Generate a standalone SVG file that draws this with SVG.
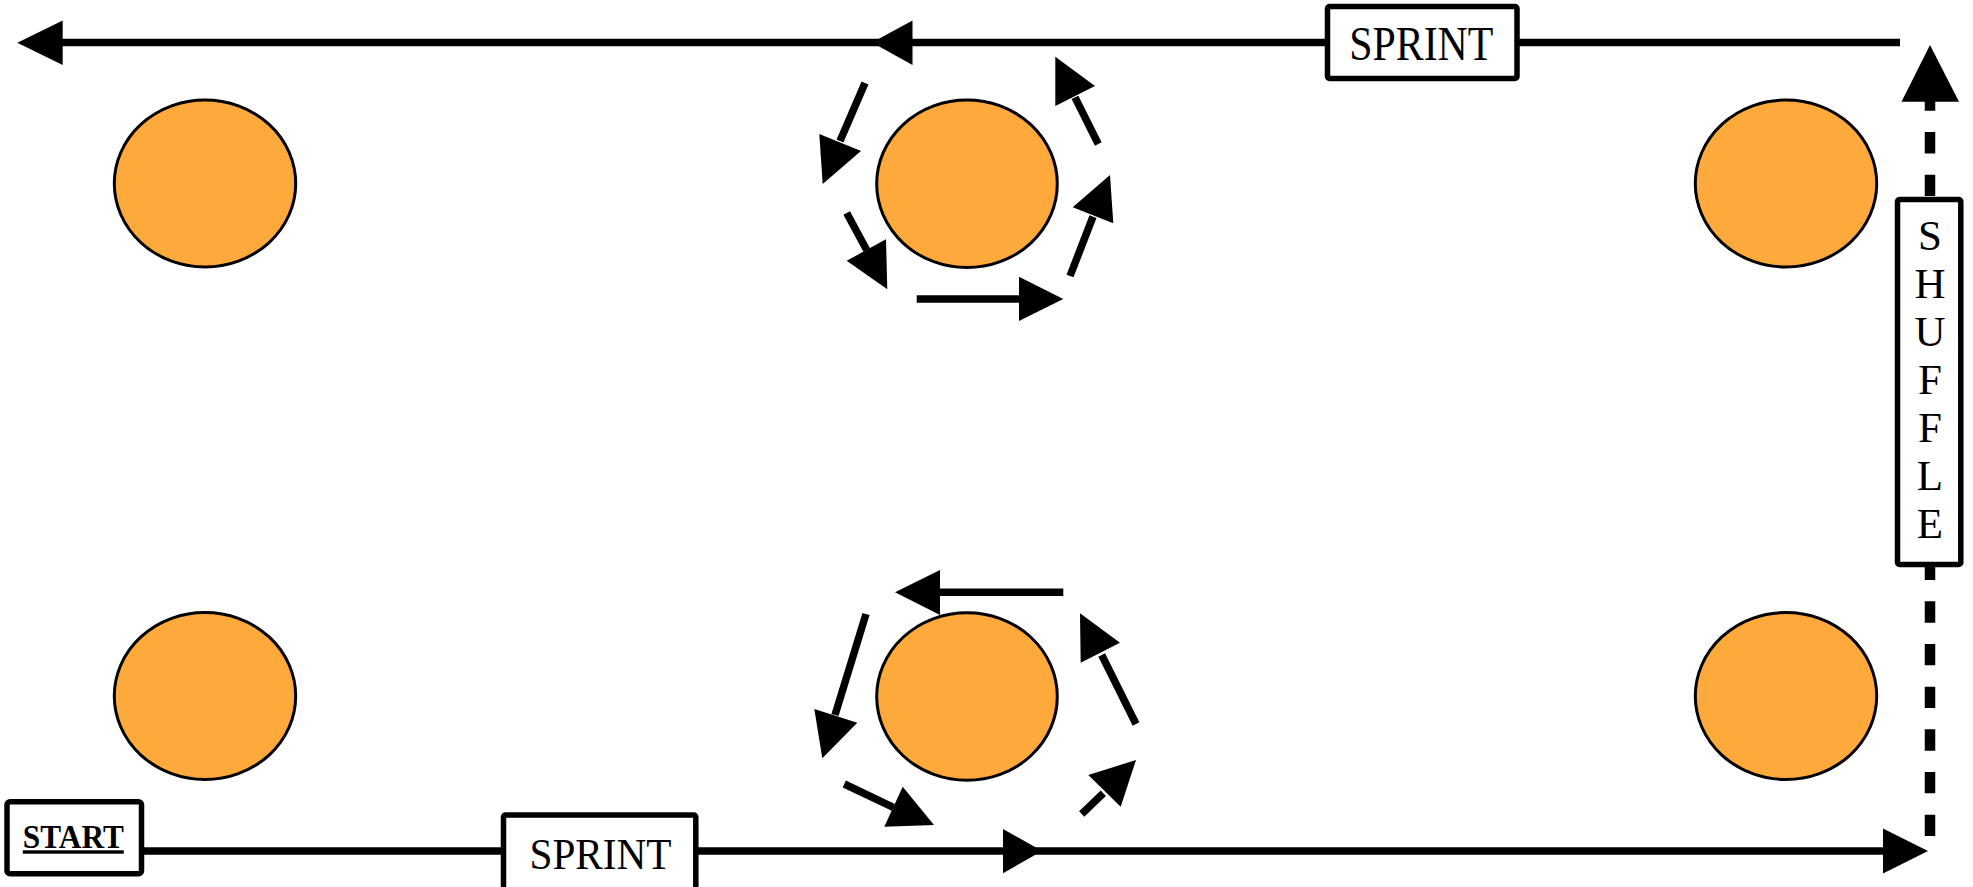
<svg xmlns="http://www.w3.org/2000/svg" width="1973" height="887" viewBox="0 0 1973 887">
<style>
.cone{fill:#FEA93B;stroke:#000;stroke-width:3}
.box{fill:#fff;stroke:#000;stroke-width:5.5}
.ln{stroke:#000;stroke-width:7.5;fill:none;stroke-linecap:butt}
.dash{stroke:#000;stroke-width:10.5;fill:none;stroke-dasharray:21.33 21.33}
.hd{fill:#000;stroke:none}
.lbl{font-family:"Liberation Serif","Times New Roman",serif;fill:#000}
</style>
<rect width="1973" height="887" fill="#fff"/>

<g id="cone-tl"><ellipse class="cone" cx="205" cy="183.5" rx="90.7" ry="83.5"/></g>
<g id="cone-tm"><ellipse class="cone" cx="967" cy="183.8" rx="90.3" ry="83.8"/></g>
<g id="cone-tr"><ellipse class="cone" cx="1786" cy="183.5" rx="90.7" ry="83.5"/></g>
<g id="cone-bl"><ellipse class="cone" cx="205" cy="696" rx="90.7" ry="83.5"/></g>
<g id="cone-bm"><ellipse class="cone" cx="967" cy="696.5" rx="90.3" ry="83.8"/></g>
<g id="cone-br"><ellipse class="cone" cx="1786" cy="696" rx="90.7" ry="83.5"/></g>

<g id="connectors">
  <!-- top sprint line -->
  <path class="ln" d="M1900,42.5 H62"/>
  <polygon class="hd" points="17.3,42.7 62.7,20.5 62.7,65"/>
  <polygon class="hd" points="872,42.5 912.5,20.5 912.5,65"/>
  <!-- bottom sprint line -->
  <path class="ln" d="M144,851 H1884"/>
  <polygon class="hd" points="1042,851 1003,829 1003,873.3"/>
  <polygon class="hd" points="1928,851 1883,828.5 1883,873.5"/>
  <!-- shuffle dashed line -->
  <path class="dash" d="M1930,836 V89"/>
  <polygon class="hd" points="1930,45 1901.5,101.7 1959,101.7"/>

  <!-- circle arrows around top-middle cone -->
  <path class="ln" d="M865,83 L840,141"/>
  <polygon class="hd" points="822.7,184 819.3,134 861,151"/>
  <path class="ln" d="M846.7,213 L866.7,250"/>
  <polygon class="hd" points="887.3,289.3 846.7,260.7 886,239.3"/>
  <path class="ln" d="M916.7,299 L1019,299"/>
  <polygon class="hd" points="1063.3,299 1019,276.7 1019,321"/>
  <path class="ln" d="M1070,276 L1093,216.7"/>
  <polygon class="hd" points="1110,175 1072.7,207.3 1113.3,223.3"/>
  <path class="ln" d="M1098.3,144 L1075,97.3"/>
  <polygon class="hd" points="1055.3,56.7 1095,86 1055.3,106"/>

  <!-- circle arrows around bottom-middle cone -->
  <path class="ln" d="M1063.3,592.3 L940,592.3"/>
  <polygon class="hd" points="895,592.3 940,570 940,615"/>
  <path class="ln" d="M866,614 L835,715"/>
  <polygon class="hd" points="822.3,758.3 814.3,709 857.3,722.7"/>
  <path class="ln" d="M844.3,784 L893.3,807.3"/>
  <polygon class="hd" points="934,825 884.3,826.7 902.7,786.7"/>
  <path class="ln" d="M1081.7,814 L1103.3,793.3"/>
  <polygon class="hd" points="1136,760 1088.3,775 1120.7,806.7"/>
  <path class="ln" d="M1136,724 L1101.7,655"/>
  <polygon class="hd" points="1080,613.3 1080.7,662.7 1120,642.7"/>
</g>

<g id="label-sprint-top">
  <rect class="box" x="1327.5" y="6.5" width="189.5" height="72" rx="2"/>
  <text class="lbl" x="1421.3" y="60" font-size="48" text-anchor="middle" textLength="144" lengthAdjust="spacingAndGlyphs">SPRINT</text>
</g>
<g id="label-sprint-bottom">
  <rect class="box" x="503.5" y="815" width="192.3" height="80" rx="2"/>
  <text class="lbl" x="600.5" y="869.3" font-size="45" text-anchor="middle" textLength="142" lengthAdjust="spacingAndGlyphs">SPRINT</text>
</g>
<g id="label-start">
  <rect class="box" x="7" y="801.7" width="134.5" height="72" rx="3"/>
  <text class="lbl" x="73.3" y="848.3" font-size="34" font-weight="bold" text-anchor="middle" text-decoration="underline" textLength="101" lengthAdjust="spacingAndGlyphs">START</text>
</g>
<g id="label-shuffle">
  <rect class="box" x="1897.5" y="199.5" width="63.3" height="365" rx="2" stroke-width="5"/>
  <text class="lbl" font-size="43" text-anchor="middle"><tspan x="1930" y="250">S</tspan><tspan x="1930" y="298">H</tspan><tspan x="1930" y="346">U</tspan><tspan x="1930" y="394">F</tspan><tspan x="1930" y="442">F</tspan><tspan x="1930" y="490">L</tspan><tspan x="1930" y="538">E</tspan></text>
</g>
</svg>
